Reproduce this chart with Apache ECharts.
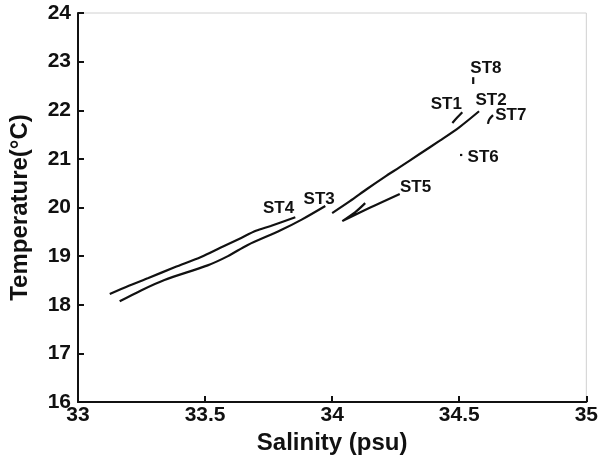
<!DOCTYPE html>
<html><head><meta charset="utf-8">
<script src="https://cdn.jsdelivr.net/npm/echarts@6/dist/echarts.min.js"></script>
<style>html,body{margin:0;padding:0;background:#fff}#c{width:601px;height:460px}</style>
</head><body><div id="c"></div>
<script>
// Salinity (psu), Temperature (°C) traces per station
const ST1 = [[34.473, 21.74], [34.492, 21.85], [34.512, 21.96]];
const ST2 = [[34.0, 19.885], [34.07, 20.13], [34.137, 20.38], [34.207, 20.63], [34.266, 20.83], [34.344, 21.10], [34.422, 21.37], [34.50, 21.65], [34.578, 21.98]];
const ST3 = [[33.164, 18.07], [33.25, 18.30], [33.34, 18.51], [33.51, 18.81], [33.59, 19.0], [33.668, 19.23], [33.797, 19.53], [33.88, 19.75], [33.973, 20.03]];
const ST4 = [[33.125, 18.22], [33.20, 18.39], [33.277, 18.55], [33.38, 18.77], [33.484, 18.98], [33.56, 19.17], [33.64, 19.37], [33.70, 19.52], [33.758, 19.62], [33.855, 19.80]];
const ST5 = [[34.266, 20.28], [34.15, 20.0], [34.04, 19.72], [34.09, 19.90], [34.13, 20.09]];
const ST6 = [[34.503, 21.08], [34.512, 21.08]];
const ST7 = [[34.613, 21.72], [34.618, 21.81], [34.633, 21.90]];
const ST8 = [[34.555, 22.68], [34.555, 22.54]];
const stations = {ST1, ST2, ST3, ST4, ST5, ST6, ST7, ST8};
const labelNames = ['ST1','ST2','ST3','ST4','ST5','ST6','ST7','ST8'];
const labelPos = [[34.449, 22.13], [34.625, 22.21], [33.949, 20.17], [33.789, 19.99], [34.328, 20.42], [34.594, 21.04], [34.703, 21.90], [34.605, 22.87]];

const font = "'Liberation Sans', Arial, sans-serif";
const series = Object.keys(stations).map(k => ({
  type: 'line', name: k, data: stations[k], showSymbol: false, smooth: 0.3,
  lineStyle: {color: '#111', width: 2.2}, silent: true, animation: false
}));
series.push({
  type: 'scatter', symbolSize: 1, silent: true, animation: false,
  itemStyle: {opacity: 0},
  data: labelPos.map((p, i) => ({value: p, name: labelNames[i]})),
  label: {show: true, position: 'inside', opacity: 1, formatter: p => p.name, color: '#111', fontWeight: 'bold', fontSize: 17, fontFamily: font}
});

const chart = echarts.init(document.getElementById('c'), null, {renderer: 'canvas'});
chart.setOption({
  animation: false,
  grid: {left: 76, right: 13, top: 13, bottom: 58, show: true, borderColor: '#d0d0d0', borderWidth: 1},
  xAxis: {type: 'value', min: 33, max: 35, interval: 0.5,
    name: 'Salinity (psu)', nameLocation: 'middle', nameGap: 26,
    nameTextStyle: {fontSize: 24, fontWeight: 'bold', color: '#111', fontFamily: font},
    axisLine: {lineStyle: {color: '#111', width: 2}},
    axisTick: {inside: true, length: 6, lineStyle: {color: '#111', width: 2}},
    axisLabel: {fontSize: 21, fontWeight: 'bold', color: '#111', fontFamily: font, margin: 3, showMinLabel: true, showMaxLabel: true},
    splitLine: {show: false}},
  yAxis: {type: 'value', min: 16, max: 24, interval: 1,
    name: 'Temperature(°C)', nameLocation: 'middle', nameGap: 46,
    nameTextStyle: {fontSize: 24, fontWeight: 'bold', color: '#111', fontFamily: font},
    axisLine: {show: true, lineStyle: {color: '#111', width: 2}},
    axisTick: {show: true, inside: true, length: 6, lineStyle: {color: '#111', width: 2}},
    axisLabel: {fontSize: 21, fontWeight: 'bold', color: '#111', fontFamily: font, margin: 7},
    splitLine: {show: false}},
  series
});
</script></body></html>
